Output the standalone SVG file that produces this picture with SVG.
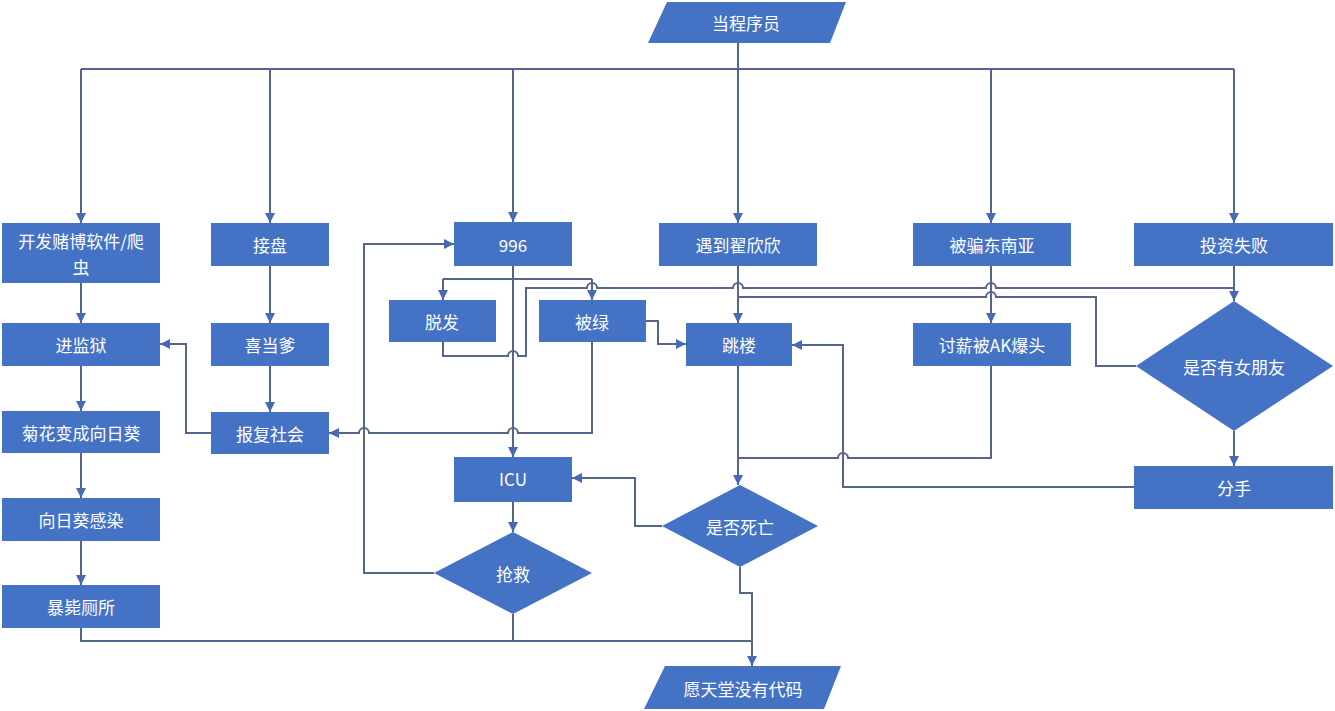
<svg xmlns="http://www.w3.org/2000/svg" width="1335" height="711" viewBox="0 0 1335 711">
<style>
.n{fill:#4472C4;}
.t{fill:#ffffff;font-family:"Noto Sans CJK SC","Noto Sans",sans-serif;font-size:17px;text-anchor:middle;dominant-baseline:central;}
.c{fill:none;stroke:#56658c;stroke-width:2;}
.a{marker-end:url(#ah);}
</style>
<defs>
<marker id="ah" markerWidth="12" markerHeight="12" refX="10" refY="6" orient="auto" markerUnits="userSpaceOnUse">
<path d="M0,1 L10,6 L0,11 z" fill="#4a69b5"/>
</marker>
</defs>
<rect width="1335" height="711" fill="#ffffff"/>
<g id="connectors">
<path class="c" d="M738,43 V69"/>
<path class="c" d="M81,69 H1234"/>
<path class="c a" d="M81,69 V223"/>
<path class="c a" d="M270,69 V223"/>
<path class="c a" d="M513,69 V222"/>
<path class="c a" d="M738,69 V223"/>
<path class="c a" d="M991,69 V223"/>
<path class="c a" d="M1234,69 V223"/>
<path class="c a" d="M81,283 V323"/>
<path class="c a" d="M81,366 V411"/>
<path class="c a" d="M81,453 V498"/>
<path class="c a" d="M81,541 V585"/>
<path class="c" d="M81,628 V641 H752"/>
<path class="c" d="M513,614 V641"/>
<path class="c a" d="M740,567 V593 H752 V666"/>
<path class="c a" d="M270,266 V323"/>
<path class="c a" d="M270,366 V412"/>
<path class="c a" d="M211,433 H186 V344 H160"/>
<path class="c" d="M443,279 H592"/>
<path class="c a" d="M443,279 V300"/>
<path class="c a" d="M592,279 V300"/>
<path class="c a" d="M513,266 V457"/>
<path class="c" d="M443,342 V356 H508 A5,5 0 0 1 518,356 H526 V288 H587 A5,5 0 0 1 597,288 H733 A5,5 0 0 1 743,288 H986 A5,5 0 0 1 996,288 H1234"/>
<path class="c a" d="M1234,266 V301"/>
<path class="c a" d="M646,321 H658 V344 H686"/>
<path class="c a" d="M592,342 V433 H518 A5,5 0 0 0 508,433 H369 A5,5 0 0 0 359,433 H329"/>
<path class="c a" d="M738,266 V323"/>
<path class="c" d="M1136,366 H1096 V297 H996 A5,5 0 0 0 986,297 H738"/>
<path class="c a" d="M991,266 V323"/>
<path class="c" d="M991,366 V458 H848 A5,5 0 0 0 838,458 H738"/>
<path class="c a" d="M738,366 V485"/>
<path class="c a" d="M1134,487 H843 V345 H792"/>
<path class="c a" d="M1234,431 V466"/>
<path class="c a" d="M662,526 H635 V478 H572"/>
<path class="c a" d="M513,502 V532"/>
<path class="c a" d="M434,573 H364 V244 H454"/>
</g>
<g id="n_start"><polygon class="n" points="667,2 846,2 830,43 648,43"/><text class="t" x="746" y="22">当程序员</text></g>
<g id="n_kaifa"><rect class="n" x="2" y="223" width="158" height="60"/><text class="t" x="81" y="240">开发赌博软件/爬</text><text class="t" x="81" y="266">虫</text></g>
<g id="n_jianyu"><rect class="n" x="2" y="323" width="158" height="43"/><text class="t" x="81" y="344">进监狱</text></g>
<g id="n_juhua"><rect class="n" x="2" y="411" width="158" height="42"/><text class="t" x="81" y="432">菊花变成向日葵</text></g>
<g id="n_ganran"><rect class="n" x="2" y="498" width="158" height="43"/><text class="t" x="81" y="519">向日葵感染</text></g>
<g id="n_baobi"><rect class="n" x="2" y="585" width="158" height="43"/><text class="t" x="81" y="606">暴毙厕所</text></g>
<g id="n_jiepan"><rect class="n" x="211" y="223" width="118" height="43"/><text class="t" x="270" y="244">接盘</text></g>
<g id="n_xidangdie"><rect class="n" x="211" y="323" width="118" height="43"/><text class="t" x="270" y="344">喜当爹</text></g>
<g id="n_baofu"><rect class="n" x="211" y="412" width="118" height="42"/><text class="t" x="270" y="433">报复社会</text></g>
<g id="n_996"><rect class="n" x="454" y="222" width="118" height="44"/><text class="t" x="513" y="244">996</text></g>
<g id="n_tuofa"><rect class="n" x="389" y="300" width="107" height="42"/><text class="t" x="442" y="321">脱发</text></g>
<g id="n_beilv"><rect class="n" x="539" y="300" width="107" height="42"/><text class="t" x="592" y="321">被绿</text></g>
<g id="n_yudao"><rect class="n" x="659" y="223" width="158" height="43"/><text class="t" x="738" y="244">遇到翟欣欣</text></g>
<g id="n_tiaolou"><rect class="n" x="686" y="323" width="106" height="43"/><text class="t" x="739" y="344">跳楼</text></g>
<g id="n_pianju"><rect class="n" x="913" y="223" width="158" height="43"/><text class="t" x="992" y="244">被骗东南亚</text></g>
<g id="n_taoxin"><rect class="n" x="913" y="323" width="158" height="43"/><text class="t" x="992" y="344">讨薪被AK爆头</text></g>
<g id="n_touzi"><rect class="n" x="1134" y="223" width="199" height="43"/><text class="t" x="1234" y="244">投资失败</text></g>
<g id="n_nvpengyou"><polygon class="n" points="1234,301 1333,366 1234,431 1136,366"/><text class="t" x="1234" y="366">是否有女朋友</text></g>
<g id="n_fenshou"><rect class="n" x="1134" y="466" width="199" height="43"/><text class="t" x="1234" y="487">分手</text></g>
<g id="n_icu"><rect class="n" x="454" y="457" width="118" height="45"/><text class="t" x="513" y="478">ICU</text></g>
<g id="n_qiangjiu"><polygon class="n" points="513,532 592,573 513,614 434,573"/><text class="t" x="513" y="573">抢救</text></g>
<g id="n_siwang"><polygon class="n" points="740,485 818,526 740,567 662,526"/><text class="t" x="740" y="526">是否死亡</text></g>
<g id="n_end"><polygon class="n" points="665,666 841,666 824,709 644,709"/><text class="t" x="743" y="688">愿天堂没有代码</text></g>
</svg>
